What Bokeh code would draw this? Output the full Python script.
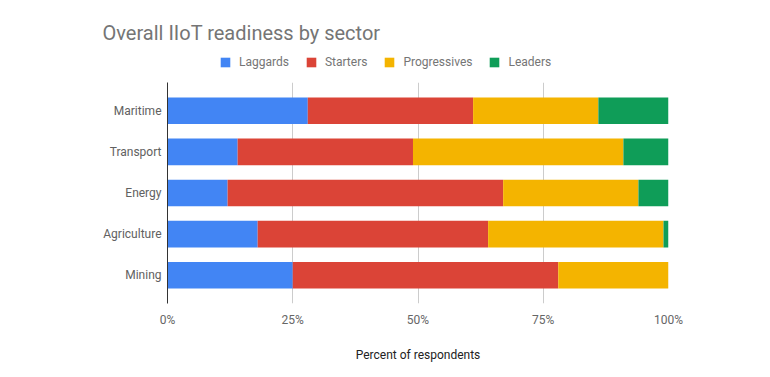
from bokeh.plotting import figure
from bokeh.layouts import column
from bokeh.models import (FactorRange, FixedTicker, PrintfTickFormatter, Legend,
                          LegendItem)
from bokeh.embed import file_html
from bokeh.resources import INLINE

sectors = ["Maritime", "Transport", "Energy", "Agriculture", "Mining"]
series = ["Laggards", "Starters", "Progressives", "Leaders"]
laggards = [28, 14, 12, 18, 25]
starters = [33, 35, 55, 46, 53]
progressives = [25, 42, 27, 35, 22]
leaders = [14, 9, 6, 1, 0]
x_ticks = [0, 25, 50, 75, 100]
colors = ["#4285F4", "#DB4437", "#F4B400", "#0F9D58"]

FONT = "Roboto"

data = dict(sector=sectors, Laggards=laggards, Starters=starters,
            Progressives=progressives, Leaders=leaders)

# ---------------- header: title + legend ----------------
head = figure(width=770, height=82, output_backend="svg", toolbar_location=None,
              title="Overall IIoT readiness by sector",
              x_range=(200, 300), y_range=FactorRange(factors=list(reversed(sectors))),
              x_axis_location=None, y_axis_location=None,
              min_border_left=167, min_border_right=102, min_border_top=52,
              min_border_bottom=0)
head.outline_line_color = None
head.grid.visible = False
head.title.align = "left"
head.title.offset = -65
head.title.text_font = FONT
head.title.text_font_size = "20px"
head.title.text_font_style = "normal"
head.title.text_color = "#757575"
head.title.standoff = 15

# legend swatches come from hidden copies of the stacked bars
leg_renderers = head.hbar_stack(series, y="sector", height=0.646, color=colors,
                                line_color=None, source=data)
for r in leg_renderers:
    r.visible = False

legend = Legend(items=[LegendItem(label=s, renderers=[r]) for s, r in zip(series, leg_renderers)],
                orientation="horizontal", location=(52, 13),
                glyph_width=12, glyph_height=12, label_standoff=8, spacing=16,
                padding=0, margin=0, border_line_color=None,
                background_fill_alpha=0, inactive_fill_alpha=0,
                label_text_font=FONT,
                label_text_font_size="12px", label_text_color="#757575",
                label_height=12, label_text_baseline="middle")
head.add_layout(legend, "center")

# ---------------- main chart ----------------
p = figure(width=770, height=295, output_backend="svg", toolbar_location=None,
           title=None,
           y_range=FactorRange(factors=list(reversed(sectors)), range_padding=0.1875,
                               range_padding_units="absolute"),
           x_range=(0, 100),
           min_border_left=167, min_border_right=102, min_border_top=0,
           min_border_bottom=74)
p.outline_line_color = None

p.hbar_stack(series, y="sector", height=0.646, color=colors,
             line_color=None, source=data)

p.xaxis.ticker = FixedTicker(ticks=x_ticks)
p.xaxis.formatter = PrintfTickFormatter(format="%d%%")
p.xaxis.axis_line_color = None
p.xaxis.major_tick_line_color = None
p.xaxis.minor_tick_line_color = None
p.xaxis.major_tick_out = 0
p.xaxis.major_tick_in = 0
p.xaxis.minor_tick_out = 0
p.xaxis.major_label_text_font = FONT
p.xaxis.major_label_text_font_size = "12px"
p.xaxis.major_label_text_color = "#666666"
p.xaxis.major_label_standoff = 9
p.xaxis.axis_label = "Percent of respondents"
p.xaxis.axis_label_text_font = FONT
p.xaxis.axis_label_text_font_size = "12px"
p.xaxis.axis_label_text_font_style = "normal"
p.xaxis.axis_label_text_color = "#222222"
p.xaxis.axis_label_standoff = 18

p.yaxis.axis_line_color = "#333333"
p.yaxis.axis_line_width = 1
p.yaxis.major_tick_line_color = None
p.yaxis.minor_tick_line_color = None
p.yaxis.major_tick_out = 0
p.yaxis.major_tick_in = 0
p.yaxis.major_label_text_font = FONT
p.yaxis.major_label_text_font_size = "12px"
p.yaxis.major_label_text_color = "#616161"
p.yaxis.major_label_standoff = 6

p.xgrid.grid_line_color = "#cccccc"
p.xgrid.ticker = FixedTicker(ticks=x_ticks[1:])
p.ygrid.grid_line_color = None

layout = column(head, p, spacing=0)
open("out.html", "w").write(file_html(layout, INLINE))
